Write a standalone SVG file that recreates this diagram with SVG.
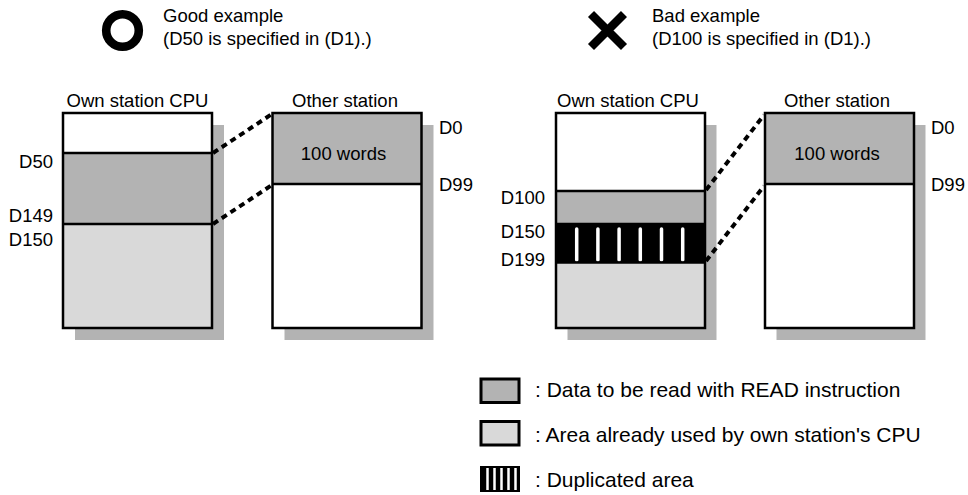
<svg xmlns="http://www.w3.org/2000/svg" width="968" height="495" viewBox="0 0 968 495">
<style>
text{font-family:"Liberation Sans",Arial,sans-serif;font-size:18.5px;fill:#000}
.lg{font-size:21px}
.mid{text-anchor:middle}
.end{text-anchor:end}
.box{fill:none;stroke:#000;stroke-width:2.5}
.sh{fill:#b3b3b3}
.rd{fill:#b3b3b3}
.used{fill:#d9d9d9}
.wh{fill:#fff}
.dup{fill:#000}
.div{stroke:#000;stroke-width:2.5}
.stripe{stroke:#fff;stroke-width:3.5;stroke-linecap:round}
.conn{stroke:#000;stroke-width:4;stroke-dasharray:6 4.5;fill:none}
</style>
<rect width="968" height="495" fill="#fff"/>

<g id="good-header">
<circle cx="122.5" cy="30.5" r="16.3" fill="none" stroke="#000" stroke-width="8.6"/>
<text x="163" y="22">Good example</text>
<text x="163" y="45">(D50 is specified in (D1).)</text>
</g>
<g id="bad-header">
<path d="M591 14 L624 47 M624 14 L591 47" stroke="#000" stroke-width="8.5"/>
<text x="652" y="22">Bad example</text>
<text x="652" y="45">(D100 is specified in (D1).)</text>
</g>

<g id="good-own-cpu">
<text class="mid" x="137.5" y="107">Own station CPU</text>
<rect class="sh" x="75" y="125" width="149" height="215"/>
<rect class="wh" x="63" y="113" width="149" height="40"/>
<rect class="rd" x="63" y="153" width="149" height="71"/>
<rect class="used" x="63" y="224" width="149" height="104"/>
<line class="div" x1="63" y1="153" x2="212" y2="153"/>
<line class="div" x1="63" y1="224" x2="212" y2="224"/>
<rect class="box" x="63" y="113" width="149" height="215"/>
<text class="end" x="53" y="168">D50</text>
<text class="end" x="53" y="222">D149</text>
<text class="end" x="53" y="246">D150</text>
</g>

<g id="good-other-station">
<text class="mid" x="345" y="107">Other station</text>
<rect class="sh" x="284.5" y="125" width="149" height="215"/>
<rect class="rd" x="272.5" y="113" width="149" height="71"/>
<rect class="wh" x="272.5" y="184" width="149" height="144"/>
<line class="div" x1="272.5" y1="184" x2="421.5" y2="184"/>
<rect class="box" x="272.5" y="113" width="149" height="215"/>
<text class="mid" x="343.5" y="160">100 words</text>
<text x="439" y="134">D0</text>
<text x="439" y="191">D99</text>
</g>

<g id="bad-own-cpu">
<text class="mid" x="628" y="107">Own station CPU</text>
<rect class="sh" x="567.5" y="125" width="149" height="215"/>
<rect class="wh" x="556" y="113" width="149" height="78"/>
<rect class="rd" x="556" y="191" width="149" height="33"/>
<rect class="dup" x="556" y="224" width="149" height="38.5"/>
<rect class="used" x="556" y="262.5" width="149" height="65.5"/>
<line class="stripe" x1="576.7" y1="229" x2="576.7" y2="260"/>
<line class="stripe" x1="597.9" y1="229" x2="597.9" y2="260"/>
<line class="stripe" x1="619.1" y1="229" x2="619.1" y2="260"/>
<line class="stripe" x1="640.3" y1="229" x2="640.3" y2="260"/>
<line class="stripe" x1="661.5" y1="229" x2="661.5" y2="260"/>
<line class="stripe" x1="682.7" y1="229" x2="682.7" y2="260"/>
<line class="div" x1="556" y1="191" x2="705" y2="191"/>
<line class="div" x1="556" y1="224" x2="705" y2="224"/>
<line class="div" x1="556" y1="262.5" x2="705" y2="262.5"/>
<rect class="box" x="556" y="113" width="149" height="215"/>
<text class="end" x="545" y="204">D100</text>
<text class="end" x="545" y="238">D150</text>
<text class="end" x="545" y="266">D199</text>
</g>

<g id="bad-other-station">
<text class="mid" x="837" y="107">Other station</text>
<rect class="sh" x="776.5" y="125" width="149" height="215"/>
<rect class="rd" x="765" y="113" width="149" height="71"/>
<rect class="wh" x="765" y="184" width="149" height="144"/>
<line class="div" x1="765" y1="184" x2="914" y2="184"/>
<rect class="box" x="765" y="113" width="149" height="215"/>
<text class="mid" x="837" y="160">100 words</text>
<text x="931" y="134">D0</text>
<text x="931" y="191">D99</text>
</g>

<g id="connectors">
<line class="conn" x1="213" y1="153" x2="272" y2="114"/>
<line class="conn" x1="213" y1="224" x2="272" y2="185"/>
<line class="conn" x1="706" y1="190" x2="764" y2="115"/>
<line class="conn" x1="706" y1="261" x2="764" y2="186"/>
</g>

<g id="legend">
<rect x="481" y="379" width="38" height="23.5" fill="#b3b3b3" stroke="#000" stroke-width="3"/>
<text class="lg" x="535" y="397">: Data to be read with READ instruction</text>
<rect x="481" y="421.5" width="38" height="23.5" fill="#d9d9d9" stroke="#000" stroke-width="3"/>
<text class="lg" x="535" y="442">: Area already used by own station's CPU</text>
<rect x="480" y="466" width="40" height="26" fill="#000"/>
<g stroke="#fff" stroke-width="2.5">
<line x1="487.5" y1="468" x2="487.5" y2="490"/>
<line x1="494.5" y1="468" x2="494.5" y2="490"/>
<line x1="501.5" y1="468" x2="501.5" y2="490"/>
<line x1="508.5" y1="468" x2="508.5" y2="490"/>
<line x1="515.5" y1="468" x2="515.5" y2="490"/>
</g>
<text class="lg" x="535" y="487">: Duplicated area</text>
</g>
</svg>
